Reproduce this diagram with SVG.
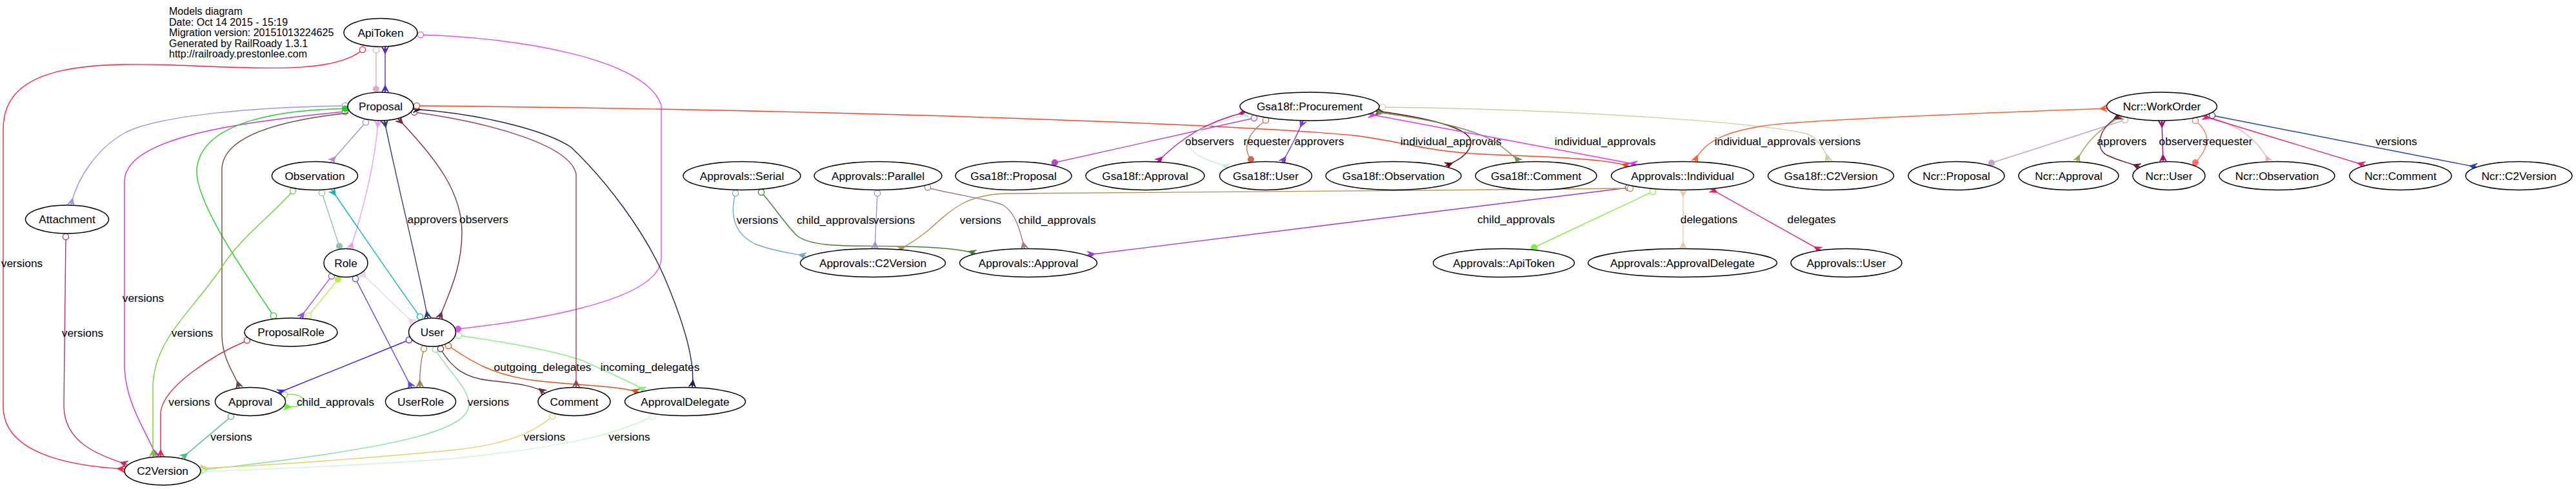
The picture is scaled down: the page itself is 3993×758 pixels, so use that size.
<svg xmlns="http://www.w3.org/2000/svg" xmlns:xlink="http://www.w3.org/1999/xlink" width="3993" height="758" viewBox="0 0 3993 758">
<style>
.n ellipse{fill:#fff;stroke:#000;stroke-width:1.5}
.n text,.lb{font-family:"Liberation Sans",Arial,sans-serif;font-size:17.3px;fill:#000;stroke:none;text-anchor:middle}
.hd{font-family:"Liberation Sans",Arial,sans-serif;font-size:16px;fill:#000}
#edges path.l{fill:none;stroke-width:1.4}
#edges use{stroke-width:1;stroke-linejoin:miter}
.o{fill:#fff;stroke-width:1.3}
.d{stroke-width:1}
</style>
<defs>
<path id="crow" d="M-11,0 L0,-5.5 L-4,-0.8 L0,0 L-4,0.8 L0,5.5 Z"/>
</defs>
<rect width="3993" height="758" fill="#fff"/>
<g id="header" class="hd">
<text x="262" y="23">Models diagram</text>
<text x="262" y="39.5">Date: Oct 14 2015 - 15:19</text>
<text x="262" y="56">Migration version: 20151013224625</text>
<text x="262" y="72.5">Generated by RailRoady 1.3.1</text>
<text x="262" y="89">http://railroady.prestonlee.com</text>
</g>
<g id="edges">
<g stroke="#ff2040" fill="#ff2040"><path class="l" d="M562,77 C525,110 430,108 300,102 C150,96 5,95 5,200 L5,630 C5,700 100,722 193,727"/><circle class="o" cx="562" cy="77" r="4.6"/><use xlink:href="#crow" transform="translate(193,727) rotate(3)"/><text class="lb" x="34" y="414">versions</text></g>
<g stroke="#e0a8c8" fill="#e0a8c8"><path class="l" d="M583,78 L583,138"/><circle class="o" cx="583" cy="77.5" r="4.6"/><circle class="d" cx="583" cy="138" r="4.6"/></g>
<g stroke="#5828c0" fill="#5828c0"><path class="l" d="M597,72.5 L597,143"/><use xlink:href="#crow" transform="translate(597,72.5) rotate(-90)"/><use xlink:href="#crow" transform="translate(597,143) rotate(90)"/></g>
<g stroke="#e050e8" fill="#e050e8"><path class="l" d="M652,54 C800,58 1000,90 1025,163 L1025,400 C1025,470 800,500 710,510"/><circle class="o" cx="652" cy="54" r="4.6"/><circle class="d" cx="710" cy="510" r="4.6"/></g>
<g stroke="#a890e0" fill="#a890e0"><path class="l" d="M535,164 C400,166 250,178 195,205 C150,230 120,275 110,318"/><circle class="o" cx="535" cy="164" r="4.6"/><use xlink:href="#crow" transform="translate(110,318) rotate(103)"/></g>
<g stroke="#d030d8" fill="#d030d8"><path class="l" d="M535,173 C360,190 195,215 193,280 L193,570 C195,630 234,680 242,708"/><circle class="o" cx="535" cy="173" r="4.6"/><use xlink:href="#crow" transform="translate(242,708) rotate(74)"/><text class="lb" x="222" y="468">versions</text></g>
<g stroke="#20d020" fill="#20d020"><path class="l" d="M535,168.5 C430,170 312,190 305,262 C302,310 370,410 424,489.5"/><circle class="d" cx="535" cy="168.5" r="4.6"/><circle class="o" cx="424" cy="489.5" r="4.6"/></g>
<g stroke="#6a4a3a" fill="#6a4a3a"><path class="l" d="M540,175 C420,188 345,215 344,262 L344,520 C345,560 365,580 371,601"/><use xlink:href="#crow" transform="translate(371,601) rotate(72)"/></g>
<g stroke="#b090c8" fill="#b090c8"><path class="l" d="M567,189.5 L513,251"/><circle class="o" cx="567" cy="189.5" r="4.6"/><use xlink:href="#crow" transform="translate(513,251) rotate(131)"/></g>
<g stroke="#e8a0f0" fill="#e8a0f0"><path class="l" d="M586,187 C582,250 562,330 543,386"/><use xlink:href="#crow" transform="translate(586,187) rotate(-86)"/><use xlink:href="#crow" transform="translate(543,386) rotate(109)"/></g>
<g stroke="#304070" fill="#304070"><path class="l" d="M596,187 C610,260 650,420 663,493"/><use xlink:href="#crow" transform="translate(596,187) rotate(-101)"/><use xlink:href="#crow" transform="translate(663,493) rotate(80)"/><text class="lb" x="670" y="346">approvers</text></g>
<g stroke="#802850" fill="#802850"><path class="l" d="M617,184 C680,250 716,300 716,360 C716,420 692,462 681,494"/><use xlink:href="#crow" transform="translate(617,184) rotate(-134)"/><use xlink:href="#crow" transform="translate(681,494) rotate(110)"/><text class="lb" x="750" y="346">observers</text></g>
<g stroke="#10b8b0" fill="#10b8b0"><path class="l" d="M651,491 C600,420 560,360 514,294"/><circle class="o" cx="651" cy="491" r="4.6"/><use xlink:href="#crow" transform="translate(514,294) rotate(-125)"/></g>
<g stroke="#90c0b8" fill="#90c0b8"><path class="l" d="M499,299 L526,381.5"/><circle class="o" cx="499" cy="299" r="4.6"/><circle class="d" cx="526" cy="381.5" r="4.6"/></g>
<g stroke="#70d030" fill="#70d030"><path class="l" d="M454,296 C420,335 370,370 340,420 C290,490 238,530 237,600 L237,708"/><circle class="o" cx="454" cy="296" r="4.6"/><use xlink:href="#crow" transform="translate(237,708) rotate(90)"/><text class="lb" x="298" y="522">versions</text></g>
<g stroke="#a050e0" fill="#a050e0"><path class="l" d="M514,428 L465,493"/><circle class="o" cx="514" cy="428" r="4.6"/><use xlink:href="#crow" transform="translate(465,493) rotate(127)"/></g>
<g stroke="#b8f040" fill="#b8f040"><path class="l" d="M524,433 L478,489.5"/><circle class="d" cx="524" cy="433" r="4.6"/><circle class="o" cx="478" cy="489.5" r="4.6"/></g>
<g stroke="#6040f0" fill="#6040f0"><path class="l" d="M551,432 L638,601"/><circle class="o" cx="551" cy="432" r="4.6"/><use xlink:href="#crow" transform="translate(638,601) rotate(63)"/></g>
<g stroke="#f0d0f0" fill="#f0d0f0"><path class="l" d="M560,423 L641,501"/><use xlink:href="#crow" transform="translate(560,423) rotate(-136)"/><use xlink:href="#crow" transform="translate(641,501) rotate(44)"/></g>
<g stroke="#d03040" fill="#d03040"><path class="l" d="M383,528 C330,550 252,600 249,640 L249,708"/><circle class="o" cx="383" cy="527.5" r="4.6"/><use xlink:href="#crow" transform="translate(249,708) rotate(90)"/><text class="lb" x="293.5" y="629">versions</text></g>
<g stroke="#b83070" fill="#b83070"><path class="l" d="M102,367 L99,630 C100,685 150,705 197,720"/><circle class="o" cx="102" cy="367" r="4.6"/><use xlink:href="#crow" transform="translate(197,720) rotate(18)"/><text class="lb" x="128" y="522">versions</text></g>
<g stroke="#4020f0" fill="#4020f0"><path class="l" d="M634,527 L431,609"/><circle class="o" cx="634" cy="527" r="4.6"/><use xlink:href="#crow" transform="translate(431,609) rotate(158)"/></g>
<g stroke="#60f020" fill="#60f020"><path class="l" d="M441,612 C478,606 482,636 440,630"/><circle class="o" cx="441" cy="612" r="4.6"/><use xlink:href="#crow" transform="translate(440,630) rotate(185)"/><text class="lb" x="520" y="629">child_approvals</text></g>
<g stroke="#40c080" fill="#40c080"><path class="l" d="M358,646 L282,710"/><circle class="o" cx="358" cy="645.5" r="4.6"/><use xlink:href="#crow" transform="translate(282,710) rotate(140)"/><text class="lb" x="358.5" y="683">versions</text></g>
<g stroke="#a08050" fill="#a08050"><path class="l" d="M657,541 C652,560 650,580 651,600"/><circle class="o" cx="657" cy="540.5" r="4.6"/><use xlink:href="#crow" transform="translate(651,600) rotate(88)"/></g>
<g stroke="#80e0a0" fill="#80e0a0"><path class="l" d="M675,542 C692,572 725,600 727,625 C729,662 650,692 311,728.5"/><circle class="o" cx="675" cy="541.5" r="4.6"/><use xlink:href="#crow" transform="translate(311,728.5) rotate(174)"/><text class="lb" x="757" y="629">versions</text></g>
<g stroke="#603040" fill="#603040"><path class="l" d="M683,541 C700,570 720,586 760,590 C800,594 830,598 844,609"/><circle class="o" cx="683" cy="540.5" r="4.6"/><use xlink:href="#crow" transform="translate(844,609) rotate(38)"/></g>
<g stroke="#e05010" fill="#e05010"><path class="l" d="M695,536 C730,560 765,582 830,590 C900,598 960,598 990,608"/><circle class="o" cx="695" cy="536" r="4.6"/><use xlink:href="#crow" transform="translate(990,608) rotate(18)"/><text class="lb" x="841" y="575">outgoing_delegates</text></g>
<g stroke="#80f080" fill="#80f080"><path class="l" d="M711,520 C780,530 870,545 910,562 C950,580 982,595 1000,605"/><circle class="o" cx="711" cy="520" r="4.6"/><use xlink:href="#crow" transform="translate(1000,605) rotate(27)"/><text class="lb" x="1007.5" y="575">incoming_delegates</text></g>
<g stroke="#a04050" fill="#a04050"><path class="l" d="M642,174 C760,190 885,225 893,270 L893,600"/><circle class="o" cx="642" cy="174" r="4.6"/><use xlink:href="#crow" transform="translate(893,600) rotate(90)"/></g>
<g stroke="#202050" fill="#202050"><path class="l" d="M641,169 C760,178 850,205 885,228 C940,280 1000,360 1030,430 C1060,500 1078,560 1073,600"/><use xlink:href="#crow" transform="translate(641,169) rotate(-175)"/><use xlink:href="#crow" transform="translate(1073,600) rotate(97)"/></g>
<g stroke="#e8d060" fill="#e8d060"><path class="l" d="M856,645 C830,670 780,690 700,698 C550,712 400,722 311,726"/><circle class="o" cx="856" cy="645" r="4.6"/><use xlink:href="#crow" transform="translate(311,726) rotate(178)"/><text class="lb" x="844" y="683">versions</text></g>
<g stroke="#c8f8d0" fill="#c8f8d0"><path class="l" d="M1011,646 C960,670 900,690 700,711 C550,722 400,728 311,731"/><circle class="o" cx="1011" cy="645.5" r="4.6"/><use xlink:href="#crow" transform="translate(311,731) rotate(178)"/><text class="lb" x="975.5" y="683">versions</text></g>
<g stroke="#ff4020" fill="#ff4020"><path class="l" d="M646,164 C1300,170 1900,192 2100,210 C2190,222 2210,236 2320,240 C2430,244 2500,248 2525,258"/><circle class="o" cx="646" cy="164" r="4.6"/><use xlink:href="#crow" transform="translate(2525,258) rotate(20)"/><text class="lb" x="2249" y="225">individual_approvals</text></g>
<g stroke="#70a8c8" fill="#70a8c8"><path class="l" d="M1140,300 C1132,330 1135,360 1170,378 C1200,390 1230,393 1249,397"/><circle class="o" cx="1140" cy="299.5" r="4.6"/><use xlink:href="#crow" transform="translate(1249,397) rotate(12)"/><text class="lb" x="1174" y="347">versions</text></g>
<g stroke="#408030" fill="#408030"><path class="l" d="M1180,298 C1200,320 1215,345 1235,365 C1260,385 1320,380 1400,382 C1450,383 1490,386 1512,393"/><circle class="o" cx="1180" cy="298" r="4.6"/><use xlink:href="#crow" transform="translate(1512,393) rotate(18)"/><text class="lb" x="1295" y="347">child_approvals</text></g>
<g stroke="#a090d0" fill="#a090d0"><path class="l" d="M1360,300 L1356,385.5"/><circle class="o" cx="1360" cy="299.5" r="4.6"/><use xlink:href="#crow" transform="translate(1356,385.5) rotate(93)"/><text class="lb" x="1386" y="347">versions</text></g>
<g stroke="#a07888" fill="#a07888"><path class="l" d="M1438,291 C1480,302 1540,310 1555,318 C1575,330 1582,360 1588,385.5"/><circle class="o" cx="1438" cy="290.5" r="4.6"/><use xlink:href="#crow" transform="translate(1588,385.5) rotate(77)"/><text class="lb" x="1638.5" y="347">child_approvals</text></g>
<g stroke="#c040c8" fill="#c040c8"><path class="l" d="M1944,183 L1635,252"/><circle class="o" cx="1944" cy="183" r="4.6"/><circle class="d" cx="1635" cy="252" r="4.6"/></g>
<g stroke="#c01090" fill="#c01090"><path class="l" d="M1931,174 C1870,188 1830,215 1794,251"/><use xlink:href="#crow" transform="translate(1931,174) rotate(-13)"/><use xlink:href="#crow" transform="translate(1794,251) rotate(136)"/></g>
<g stroke="#c0f0d8" fill="#c0f0d8"><path class="l" d="M1936,177 C1880,190 1840,205 1842,222 C1845,240 1875,250 1905,259"/><use xlink:href="#crow" transform="translate(1936,177) rotate(-13)"/><use xlink:href="#crow" transform="translate(1905,259) rotate(17)"/><text class="lb" x="1875" y="225">observers</text></g>
<g stroke="#d06850" fill="#d06850"><path class="l" d="M1962,187 C1935,205 1925,228 1939,247"/><circle class="o" cx="1962" cy="186.5" r="4.6"/><circle class="d" cx="1939" cy="247" r="4.6"/><text class="lb" x="1964" y="225">requester</text></g>
<g stroke="#7040d0" fill="#7040d0"><path class="l" d="M2020,187 C2010,210 2000,232 1987,252"/><use xlink:href="#crow" transform="translate(2020,187) rotate(-66)"/><use xlink:href="#crow" transform="translate(1987,252) rotate(124)"/><text class="lb" x="2045" y="225">approvers</text></g>
<g stroke="#600010" fill="#600010"><path class="l" d="M2133,172 C2210,182 2280,198 2280,220 C2280,238 2258,250 2241,257"/><use xlink:href="#crow" transform="translate(2133,172) rotate(-173)"/><use xlink:href="#crow" transform="translate(2241,257) rotate(158)"/></g>
<g stroke="#709050" fill="#709050"><path class="l" d="M2133,174 C2230,186 2300,205 2325,225 C2340,237 2350,245 2355,251"/><use xlink:href="#crow" transform="translate(2133,174) rotate(-173)"/><use xlink:href="#crow" transform="translate(2355,251) rotate(50)"/></g>
<g stroke="#f030f0" fill="#f030f0"><path class="l" d="M2122,177 L2537,255"/><use xlink:href="#crow" transform="translate(2122,177) rotate(-169)"/><use xlink:href="#crow" transform="translate(2537,255) rotate(11)"/><text class="lb" x="2488" y="225">individual_approvals</text></g>
<g stroke="#c8d0a0" fill="#c8d0a0"><path class="l" d="M2143,166 C2450,170 2720,190 2800,207 C2820,215 2830,235 2834,250"/><circle class="o" cx="2143" cy="166" r="4.6"/><use xlink:href="#crow" transform="translate(2834,250) rotate(76)"/><text class="lb" x="2852" y="225">versions</text></g>
<g stroke="#ff6030" fill="#ff6030"><path class="l" d="M3266,168 C3050,176 2850,184 2760,192 C2680,200 2640,218 2627,251"/><use xlink:href="#crow" transform="translate(3266,168) rotate(-2)"/><use xlink:href="#crow" transform="translate(2627,251) rotate(111)"/><text class="lb" x="2736" y="225">individual_approvals</text></g>
<g stroke="#a030e0" fill="#a030e0"><path class="l" d="M2524,291 L1686,395"/><circle class="o" cx="2524" cy="291" r="4.6"/><use xlink:href="#crow" transform="translate(1686,395) rotate(173)"/><text class="lb" x="2350" y="346">child_approvals</text></g>
<g stroke="#b09050" fill="#b09050"><path class="l" d="M2527,292 C2200,297 1700,296 1560,300 C1500,302 1480,320 1440,356 C1420,372 1405,382 1392,387"/><circle class="o" cx="2527" cy="292" r="4.6"/><use xlink:href="#crow" transform="translate(1392,387) rotate(160)"/><text class="lb" x="1520" y="347">versions</text></g>
<g stroke="#80f040" fill="#80f040"><path class="l" d="M2562,297 L2378,383.5"/><circle class="o" cx="2562" cy="297" r="4.6"/><circle class="d" cx="2378" cy="383.5" r="4.6"/></g>
<g stroke="#f0c8a8" fill="#f0c8a8"><path class="l" d="M2609,294.5 L2609,385.5"/><use xlink:href="#crow" transform="translate(2609,294.5) rotate(-90)"/><use xlink:href="#crow" transform="translate(2609,385.5) rotate(90)"/><text class="lb" x="2649" y="346">delegations</text></g>
<g stroke="#f0106a" fill="#f0106a"><path class="l" d="M2652,293 L2822,388"/><use xlink:href="#crow" transform="translate(2652,293) rotate(-151)"/><use xlink:href="#crow" transform="translate(2822,388) rotate(29)"/><text class="lb" x="2808" y="346">delegates</text></g>
<g stroke="#c8a0c8" fill="#c8a0c8"><path class="l" d="M3294,186 L3087,252.5"/><circle class="o" cx="3294" cy="186" r="4.6"/><circle class="d" cx="3087" cy="252.5" r="4.6"/></g>
<g stroke="#a0a050" fill="#a0a050"><path class="l" d="M3290,180 C3260,195 3232,220 3219,250.5"/><use xlink:href="#crow" transform="translate(3290,180) rotate(-27)"/><use xlink:href="#crow" transform="translate(3219,250.5) rotate(113)"/></g>
<g stroke="#602040" fill="#602040"><path class="l" d="M3286,179 C3250,200 3248,230 3265,240 C3285,250 3300,252 3317,259"/><use xlink:href="#crow" transform="translate(3286,179) rotate(-30)"/><use xlink:href="#crow" transform="translate(3317,259) rotate(20)"/><text class="lb" x="3289" y="225">approvers</text></g>
<g stroke="#a01070" fill="#a01070"><path class="l" d="M3351,187 L3353,250.5"/><use xlink:href="#crow" transform="translate(3351,187) rotate(-92)"/><use xlink:href="#crow" transform="translate(3353,250.5) rotate(88)"/><text class="lb" x="3384.5" y="225">observers</text></g>
<g stroke="#ff7060" fill="#ff7060"><path class="l" d="M3403,187 C3425,205 3428,225 3403,252"/><circle class="o" cx="3403" cy="187" r="4.6"/><circle class="d" cx="3403" cy="252" r="4.6"/><text class="lb" x="3455" y="225">requester</text></g>
<g stroke="#e8b0b8" fill="#e8b0b8"><path class="l" d="M3424,181 C3470,195 3500,215 3517,251"/><circle class="o" cx="3424" cy="181" r="4.6"/><use xlink:href="#crow" transform="translate(3517,251) rotate(64)"/></g>
<g stroke="#f02060" fill="#f02060"><path class="l" d="M3415,180 L3665,256"/><use xlink:href="#crow" transform="translate(3415,180) rotate(-163)"/><use xlink:href="#crow" transform="translate(3665,256) rotate(17)"/></g>
<g stroke="#2040c0" fill="#2040c0"><path class="l" d="M3429,179 L3839,259"/><circle class="o" cx="3429" cy="179" r="4.6"/><use xlink:href="#crow" transform="translate(3839,259) rotate(11)"/><text class="lb" x="3714.5" y="225">versions</text></g>
</g>
<g id="n-ApiToken" class="n"><ellipse cx="590" cy="50.5" rx="57" ry="22"/><text x="590" y="56.5">ApiToken</text></g>
<g id="n-Proposal" class="n"><ellipse cx="590" cy="165" rx="51" ry="22"/><text x="590" y="171">Proposal</text></g>
<g id="n-Observation" class="n"><ellipse cx="488" cy="272.5" rx="66.5" ry="22"/><text x="488" y="278.5">Observation</text></g>
<g id="n-Attachment" class="n"><ellipse cx="104" cy="340" rx="64.5" ry="22"/><text x="104" y="346">Attachment</text></g>
<g id="n-Role" class="n"><ellipse cx="536" cy="407.5" rx="34" ry="22"/><text x="536" y="413.5">Role</text></g>
<g id="n-ProposalRole" class="n"><ellipse cx="451" cy="515" rx="72" ry="22"/><text x="451" y="521">ProposalRole</text></g>
<g id="n-User" class="n"><ellipse cx="670" cy="515" rx="36.5" ry="22"/><text x="670" y="521">User</text></g>
<g id="n-Approval" class="n"><ellipse cx="388" cy="622.5" rx="54.5" ry="22"/><text x="388" y="628.5">Approval</text></g>
<g id="n-UserRole" class="n"><ellipse cx="652" cy="622.5" rx="54.5" ry="22"/><text x="652" y="628.5">UserRole</text></g>
<g id="n-Comment" class="n"><ellipse cx="890" cy="622.5" rx="56" ry="22"/><text x="890" y="628.5">Comment</text></g>
<g id="n-ApprovalDelegate" class="n"><ellipse cx="1062" cy="622.5" rx="93.5" ry="22"/><text x="1062" y="628.5">ApprovalDelegate</text></g>
<g id="n-C2Version" class="n"><ellipse cx="252" cy="730" rx="59" ry="22"/><text x="252" y="736">C2Version</text></g>
<g id="n-ApprovalsSerial" class="n"><ellipse cx="1150" cy="272.5" rx="91" ry="22"/><text x="1150" y="278.5">Approvals::Serial</text></g>
<g id="n-ApprovalsParallel" class="n"><ellipse cx="1361" cy="272.5" rx="99" ry="22"/><text x="1361" y="278.5">Approvals::Parallel</text></g>
<g id="n-ApprovalsC2Version" class="n"><ellipse cx="1353" cy="407.5" rx="112.5" ry="22"/><text x="1353" y="413.5">Approvals::C2Version</text></g>
<g id="n-ApprovalsApproval" class="n"><ellipse cx="1594" cy="407.5" rx="106.5" ry="22"/><text x="1594" y="413.5">Approvals::Approval</text></g>
<g id="n-Gsa18fProposal" class="n"><ellipse cx="1571" cy="272.5" rx="90" ry="22"/><text x="1571" y="278.5">Gsa18f::Proposal</text></g>
<g id="n-Gsa18fApproval" class="n"><ellipse cx="1775" cy="272.5" rx="92" ry="22"/><text x="1775" y="278.5">Gsa18f::Approval</text></g>
<g id="n-Gsa18fUser" class="n"><ellipse cx="1962" cy="272.5" rx="71.5" ry="22"/><text x="1962" y="278.5">Gsa18f::User</text></g>
<g id="n-Gsa18fProcurement" class="n"><ellipse cx="2030" cy="165" rx="108" ry="22"/><text x="2030" y="171">Gsa18f::Procurement</text></g>
<g id="n-Gsa18fObservation" class="n"><ellipse cx="2160" cy="272.5" rx="105" ry="22"/><text x="2160" y="278.5">Gsa18f::Observation</text></g>
<g id="n-Gsa18fComment" class="n"><ellipse cx="2381" cy="272.5" rx="94" ry="22"/><text x="2381" y="278.5">Gsa18f::Comment</text></g>
<g id="n-ApprovalsIndividual" class="n"><ellipse cx="2608" cy="272.5" rx="110.5" ry="22"/><text x="2608" y="278.5">Approvals::Individual</text></g>
<g id="n-Gsa18fC2Version" class="n"><ellipse cx="2838" cy="272.5" rx="97.5" ry="22"/><text x="2838" y="278.5">Gsa18f::C2Version</text></g>
<g id="n-ApprovalsApiToken" class="n"><ellipse cx="2331" cy="407.5" rx="109.5" ry="22"/><text x="2331" y="413.5">Approvals::ApiToken</text></g>
<g id="n-ApprovalsApprovalDelegate" class="n"><ellipse cx="2608" cy="407.5" rx="146.5" ry="22"/><text x="2608" y="413.5">Approvals::ApprovalDelegate</text></g>
<g id="n-ApprovalsUser" class="n"><ellipse cx="2862" cy="407.5" rx="86" ry="22"/><text x="2862" y="413.5">Approvals::User</text></g>
<g id="n-NcrWorkOrder" class="n"><ellipse cx="3351" cy="165" rx="85.5" ry="22"/><text x="3351" y="171">Ncr::WorkOrder</text></g>
<g id="n-NcrProposal" class="n"><ellipse cx="3032.5" cy="272.5" rx="74.5" ry="22"/><text x="3032.5" y="278.5">Ncr::Proposal</text></g>
<g id="n-NcrApproval" class="n"><ellipse cx="3206.5" cy="272.5" rx="77.5" ry="22"/><text x="3206.5" y="278.5">Ncr::Approval</text></g>
<g id="n-NcrUser" class="n"><ellipse cx="3362" cy="272.5" rx="56" ry="22"/><text x="3362" y="278.5">Ncr::User</text></g>
<g id="n-NcrObservation" class="n"><ellipse cx="3529.5" cy="272.5" rx="89.5" ry="22"/><text x="3529.5" y="278.5">Ncr::Observation</text></g>
<g id="n-NcrComment" class="n"><ellipse cx="3721" cy="272.5" rx="79" ry="22"/><text x="3721" y="278.5">Ncr::Comment</text></g>
<g id="n-NcrC2Version" class="n"><ellipse cx="3904.5" cy="272.5" rx="82.5" ry="22"/><text x="3904.5" y="278.5">Ncr::C2Version</text></g>
</svg>
